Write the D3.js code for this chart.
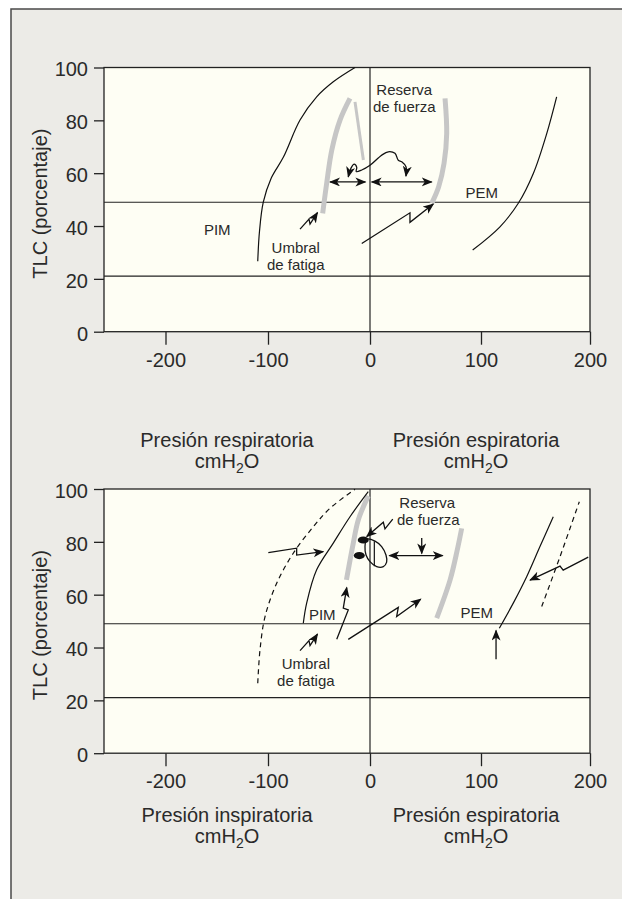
<!DOCTYPE html>
<html>
<head>
<meta charset="utf-8">
<script src="https://cdn.jsdelivr.net/npm/d3@7/dist/d3.min.js"></script>
<style>
body{margin:0;background:#fff;}
text{font-family:"Liberation Sans",Arial,sans-serif;fill:#2a2a2a;}
</style>
</head>
<body>
<svg id="chart" width="622" height="899"></svg>
<script>
// axis values
var yTicks=[0,20,40,60,80,100]
var xTicks=[-200,-100,0,100,200]
var refLines=[49,21]

// top panel curves (pressure cmH2O, TLC %)
var topPIM=[[-110,26.7],[-108.3,38],[-104.6,49],[-97,58],[-85,66],[-68.6,80.1],[-52.3,88.9],[-36,94.6],[-14.7,100]]
var topPEM=[[92.5,30.9],[117.4,39.7],[134.2,48.6],[148,59.9],[160.3,75],[169.4,88.9]]
var topGrayLeft=[[-46.4,44.8],[-42.5,56.1],[-37.5,68.7],[-29.4,80.1],[-19.6,88.3]]
var topGrayThin=[[-14.7,87],[-6.5,65]]
var topGrayRight=[[55.6,48.6],[61.8,54.8],[66.7,63.7],[69.1,75],[67.6,88.3]]
var topDouble1=[[-39.2,56.7],[-4.5,56.7]]
var topDouble2=[[1.5,56.7],[55.6,56.7]]
var topSquiggle=[[-21.3,58.6],[-18.5,62],[-15.5,63.4],[-13,62.2],[-13.5,60.6],[-8.1,61.2],[0,63],[10.5,66.8],[16.5,68.1],[22.5,67.5],[25.5,64.9],[28.6,64.3],[32.4,62.4],[32.4,58.9]]
var topZigBig=[[-8.1,33.4],[36,45],[36,41.4],[57,48.3]]
var zigFatigue=[[-68.6,38.8],[-59.8,42.6],[-58.8,40.7],[-51.5,45.1]]

// bottom panel curves
var botPIMdash=[[-110,26.5],[-107.8,39.1],[-102.9,51.7],[-91.5,64.3],[-75.2,75.7],[-55.6,85.7],[-39.2,92.7],[-14.7,99.9]]
var botPIM=[[-65.4,49.2],[-62.1,56.8],[-52.3,69.4],[-36,79.5],[-19.6,89.5],[-1.7,99]]
var botGrayLeft=[[-23.1,65.6],[-16.4,79.5],[-11.5,88.3],[-1.7,97.4]]
var botGrayRight=[[60.1,51.1],[72.1,65.5],[78.6,76.9],[82.6,85.1]]
var botPEM=[[116.8,47.3],[129.6,56.8],[141.9,66.8],[154.1,78.2],[166.3,89.5]]
var botPEMdash=[[155.7,55.5],[172.5,74.4],[190.2,95.2]]
var botLoop=[[-3.2,81],[4.5,80.3],[10.5,78.2],[14.4,75],[15,72.3],[12,70.6],[6,70.6],[0,72.5],[-3.9,75],[-4.9,78.2]]
var botHatch=[[3.9,80.2],[3.9,70.8]]
var botBlobs=[[-6.6,80.7],[-10.5,74.8]]
var botDouble=[[17.4,74.8],[65.5,74.8]]
var botDown=[[46.6,81.5],[46.6,75.6]]
var botUp=[[113.8,35.6],[113.8,46.4]]
var botZigLeft=[[-99.7,75.9],[-71.9,77.6],[-71.9,75],[-45.8,76.3]]
var botZigUp=[[-32.6,43.1],[-21.3,54.2],[-26.2,54.9],[-22.8,62.7]]
var botZigDiag=[[-21.3,43.1],[25.5,55.2],[24,51.7],[45.7,58.3]]
var botZigFuerza=[[20.5,88.6],[13.5,84.9],[12,87.4],[-3.2,82]]
var botZigRight=[[198.4,74.2],[175.4,69.3],[172.5,70.8],[145,65.5]]

// text labels
var topLabels=[["PIM",-149.5,36.6],["Umbral",-72.8,29.6],["de fatiga",-72.8,23.4],["Reserva",30.9,89.5],["de fuerza",30.9,83.3],["PEM",100.6,50.7]]
var botLabels=[["PIM",-46.8,50.4],["Umbral",-62.9,31.7],["de fatiga",-62.9,25.5],["Reserva",51.6,92.7],["de fuerza",52.5,86.5],["PEM",96.1,51.3]]
var topTitles=["Presión respiratoria","Presión espiratoria"]
var botTitles=["Presión inspiratoria","Presión espiratoria"]

var svg=d3.select("#chart")

// frame
svg.append("rect")
    .attr("x",11).attr("y",9)
    .attr("width",700).attr("height",1000)
    .attr("fill","#ecebe7")
    .attr("stroke","#4a4a4a")
    .attr("stroke-width",1.5)

var defs=svg.append("defs")
defs.append("marker")
    .attr("id","head")
    .attr("markerUnits","userSpaceOnUse")
    .attr("markerWidth",12).attr("markerHeight",10)
    .attr("refX",10).attr("refY",4.5)
    .attr("orient","auto-start-reverse")
    .append("path")
    .attr("d","M0,0 L11,4.5 L0,9 L3,4.5 Z")
    .attr("fill","#111")

// hand drawn axis, spacing is not even
var xScale=d3.scaleLinear()
    .domain([-260,-200,-100,0,100,200])
    .range([104,165.5,268,370,481,590])

var plot={left:104,right:590,height:264.2}

var drawPanel=function(top,spec)
{
    var yScale=d3.scaleLinear()
        .domain([0,100])
        .range([top+plot.height,top])
    var g=svg.append("g")
    var line=d3.line()
        .x(function(d){return xScale(d[0])})
        .y(function(d){return yScale(d[1])})
        .curve(d3.curveCatmullRom.alpha(0.5))
    var straight=d3.line()
        .x(function(d){return xScale(d[0])})
        .y(function(d){return yScale(d[1])})

    g.append("rect")
        .attr("x",plot.left).attr("y",top)
        .attr("width",plot.right-plot.left)
        .attr("height",plot.height)
        .attr("fill","#fefef4")

    g.selectAll(".ref")
        .data(refLines)
        .enter()
        .append("line")
        .attr("x1",plot.left).attr("x2",plot.right)
        .attr("y1",function(d){return yScale(d)})
        .attr("y2",function(d){return yScale(d)})
        .attr("stroke","#222").attr("stroke-width",1.2)

    g.append("line")
        .attr("x1",xScale(0)).attr("x2",xScale(0))
        .attr("y1",top).attr("y2",top+plot.height)
        .attr("stroke","#222").attr("stroke-width",1.2)

    g.append("rect")
        .attr("x",plot.left).attr("y",top)
        .attr("width",plot.right-plot.left)
        .attr("height",plot.height)
        .attr("fill","none")
        .attr("stroke","#222").attr("stroke-width",1.3)

    // gray strength curves
    spec.gray.forEach(function(c){
        g.append("path")
            .attr("d",line(c[0]))
            .attr("fill","none")
            .attr("stroke","#c6c6c6")
            .attr("stroke-width",c[1])
            .attr("stroke-linecap","butt")
    })

    spec.curves.forEach(function(c){
        g.append("path")
            .attr("d",line(c[0]))
            .attr("fill","none")
            .attr("stroke","#111")
            .attr("stroke-width",1.2)
            .attr("stroke-dasharray",c[1]?"5,4":null)
    })

    if(spec.loop)
    {
        g.append("path")
            .attr("d",d3.line()
                .x(function(d){return xScale(d[0])})
                .y(function(d){return yScale(d[1])})
                .curve(d3.curveCatmullRomClosed)(spec.loop))
            .attr("fill","none")
            .attr("stroke","#111").attr("stroke-width",1.3)
        g.append("path")
            .attr("d",straight(spec.hatch))
            .attr("stroke","#111").attr("stroke-width",1.2)
        g.selectAll(".blob")
            .data(spec.blobs)
            .enter()
            .append("ellipse")
            .attr("cx",function(d){return xScale(d[0])})
            .attr("cy",function(d){return yScale(d[1])})
            .attr("rx",5.5).attr("ry",3.6)
            .attr("fill","#111")
    }

    spec.arrows.forEach(function(a){
        g.append("path")
            .attr("d",(a[2]?line:straight)(a[0]))
            .attr("fill","none")
            .attr("stroke","#111")
            .attr("stroke-width",1.3)
            .attr("stroke-linejoin","miter")
            .attr("marker-end","url(#head)")
            .attr("marker-start",a[1]?"url(#head)":null)
    })

    g.selectAll(".lab")
        .data(spec.labels)
        .enter()
        .append("text")
        .attr("x",function(d){return xScale(d[1])})
        .attr("y",function(d){return yScale(d[2])})
        .attr("text-anchor","middle")
        .style("font-size","15px")
        .text(function(d){return d[0]})

    // axes
    var yAxis=d3.axisLeft(yScale)
        .tickValues(yTicks)
        .tickSize(10)
        .tickPadding(6)
    var ya=svg.append("g")
        .attr("transform","translate("+plot.left+",0)")
        .call(yAxis)
    ya.select(".domain").remove()
    ya.selectAll("line").attr("stroke","#222").attr("stroke-width",1.3)
    ya.selectAll("text")
        .style("font-size","20px")
        .attr("dy","0.42em")
        .attr("fill","#2a2a2a")

    var xAxis=d3.axisBottom(xScale)
        .tickValues(xTicks)
        .tickSize(13)
        .tickPadding(8)
        .tickFormat(function(d){return String(d)})
    var xa=svg.append("g")
        .attr("transform","translate(0,"+(top+plot.height)+")")
        .call(xAxis)
    xa.select(".domain").remove()
    xa.selectAll("line").attr("stroke","#222").attr("stroke-width",1.3)
    xa.selectAll("text")
        .style("font-size","20px")
        .attr("fill","#2a2a2a")

    svg.append("text")
        .attr("transform","translate(47,"+(top+plot.height/2+4)+") rotate(-90)")
        .attr("text-anchor","middle")
        .style("font-size","20px")
        .text("TLC (porcentaje)")

    // axis titles
    var centers=[227,476]
    spec.titles.forEach(function(t,i){
        svg.append("text")
            .attr("x",centers[i])
            .attr("y",top+plot.height+spec.titleGap)
            .attr("text-anchor","middle")
            .style("font-size","20px")
            .text(t)
        var u=svg.append("text")
            .attr("x",centers[i])
            .attr("y",top+plot.height+spec.titleGap+21)
            .attr("text-anchor","middle")
            .style("font-size","20px")
        u.append("tspan").text("cmH")
        u.append("tspan").text("2").style("font-size","14px").attr("dy",5)
        u.append("tspan").text("O").attr("dy",-5)
    })
}

drawPanel(67.5,{
    gray:[[topGrayLeft,5],[topGrayThin,3],[topGrayRight,5]],
    curves:[[topPIM,false],[topPEM,false]],
    arrows:[[topDouble1,true,false],[topDouble2,true,false],[topSquiggle,true,true],[topZigBig,false,false],[zigFatigue,false,false]],
    labels:topLabels,
    titles:topTitles,
    titleGap:115
})

drawPanel(489,{
    gray:[[botGrayLeft,5],[botGrayRight,5]],
    curves:[[botPIMdash,true],[botPIM,false],[botPEM,false],[botPEMdash,true]],
    loop:botLoop,
    hatch:botHatch,
    blobs:botBlobs,
    arrows:[[botDouble,true,false],[botDown,false,false],[botUp,false,false],[botZigLeft,false,false],[botZigUp,false,false],[botZigDiag,false,false],[botZigFuerza,false,false],[botZigRight,false,false],[zigFatigue,false,false]],
    labels:botLabels,
    titles:botTitles,
    titleGap:68.5
})
</script>
</body>
</html>
